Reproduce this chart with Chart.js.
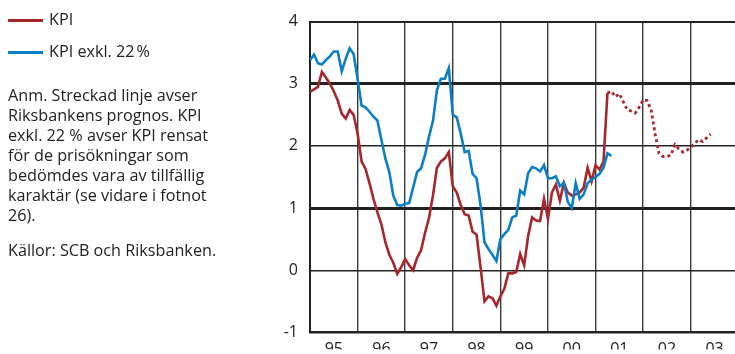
<!DOCTYPE html>
<html>
<head>
	<meta charset="UTF-8">
	<title>KPI och KPI exkl. 22 %</title>
	<script src="https://cdn.jsdelivr.net/npm/chart.js"></script>
	<style>
		body { margin: 0; width: 735px; height: 354px; overflow: hidden; background: #fff; font-family: "Open Sans", sans-serif; color: #222; }
		#wrap { position: absolute; left: 0; top: 0; width: 735px; height: 354px; }
		.side { position: absolute; left: 8px; font-size: 16.2px; line-height: 20px; white-space: nowrap; }
		.key { position: absolute; left: 8px; height: 22px; font-size: 16.2px; }
		.key span.line { position: absolute; left: 0; top: 11px; width: 35px; height: 3px; }
		.key span.txt { position: absolute; left: 41px; top: 0; white-space: nowrap; }
	</style>
</head>
<body>
	<div id="wrap">
		<canvas id="kpi-chart" width="735" height="354"></canvas>
	</div>
	<div class="key" style="top:8px"><span class="line" style="background:#a5272d"></span><span class="txt">KPI</span></div>
	<div class="key" style="top:40px"><span class="line" style="background:#0a7ec6"></span><span class="txt">KPI exkl. 22&#8239;%</span></div>
	<div class="side" style="top:85px">Anm. Streckad linje avser<br>Riksbankens prognos. KPI<br>exkl. 22 % avser KPI rensat<br>för de prisökningar som<br>bedömdes vara av tillfällig<br>karaktär (se vidare i fotnot<br>26).</div>
	<div class="side" style="top:240px">Källor: SCB och Riksbanken.</div>

	<script>
		// monthly values from jan 1995
		const startYear = 1995;
		const kpi = [2.87, 2.91, 2.95, 3.19, 3.1, 3.0, 2.88, 2.73, 2.52, 2.44, 2.58, 2.5,
			2.2, 1.75, 1.63, 1.4, 1.15, 0.93, 0.74, 0.45, 0.25, 0.12, -0.06, 0.05,
			0.18, 0.08, 0.0, 0.2, 0.32, 0.6, 0.84, 1.2, 1.65, 1.75, 1.8, 1.9,
			1.35, 1.25, 1.05, 0.9, 0.88, 0.62, 0.57, 0.05, -0.5, -0.42, -0.45, -0.57,
			-0.42, -0.3, -0.05, -0.05, -0.03, 0.26, 0.08, 0.55, 0.85, 0.8, 0.79, 1.15,
			0.83, 1.25, 1.38, 1.12, 1.4, 1.25, 1.2, 1.22, 1.25, 1.33, 1.65, 1.43,
			1.69, 1.62, 1.75, 2.85];
		// Riksbankens prognos, starts at the last KPI month
		const forecastStart = 75;
		const kpiForecast = [2.85, 2.88, 2.79, 2.84, 2.71, 2.58, 2.56, 2.53, 2.62,
			2.74, 2.73, 2.58, 2.2, 1.88, 1.83, 1.83, 1.85, 2.02, 1.95, 1.9, 1.93,
			1.98, 2.04, 2.1, 2.07, 2.13, 2.19];
		const kpiExkl = [3.38, 3.47, 3.33, 3.31, 3.38, 3.44, 3.52, 3.52, 3.2, 3.4, 3.57, 3.48,
			3.08, 2.65, 2.62, 2.55, 2.47, 2.41, 2.1, 1.8, 1.58, 1.2, 1.05, 1.04,
			1.07, 1.08, 1.33, 1.58, 1.64, 1.85, 2.15, 2.4, 2.9, 3.08, 3.08, 3.25,
			2.5, 2.46, 2.2, 1.9, 1.92, 1.55, 1.48, 1.05, 0.45, 0.34, 0.25, 0.15,
			0.5, 0.58, 0.65, 0.85, 0.88, 1.28, 1.22, 1.56, 1.66, 1.64, 1.59, 1.69,
			1.48, 1.48, 1.51, 1.35, 1.41, 1.1, 1.0, 1.4, 1.15, 1.22, 1.4, 1.46,
			1.5, 1.55, 1.65, 1.88, 1.84];
		const years = [1995, 1996, 1997, 1998, 1999, 2000, 2001, 2002, 2003];
		const yearLabels = ['95', '96', '97', '98', '99', '00', '01', '02', '03'];
		const yTicks = [-1, 0, 1, 2, 3, 4];

		const toPoints = (arr, offset) => arr.map((v, i) => ({ x: startYear + (offset + i) / 12, y: v }));

		// one tick at each year start (grid) and one mid-year (label)
		const xTicks = [];
		years.forEach(y => { xTicks.push({ value: y }); xTicks.push({ value: y + 0.5 }); });

		const ctx = document.getElementById('kpi-chart').getContext('2d');
		new Chart(ctx, {
			type: 'line',
			data: {
				datasets: [{
					label: 'KPI exkl. 22 %',
					data: toPoints(kpiExkl, 0),
					borderColor: '#0a7ec6',
					borderWidth: 2.6,
					pointRadius: 0,
					tension: 0
				}, {
					label: 'KPI',
					data: toPoints(kpi, 0),
					borderColor: '#a5272d',
					borderWidth: 2.6,
					pointRadius: 0,
					tension: 0
				}, {
					label: 'Prognos',
					data: toPoints(kpiForecast, forecastStart),
					borderColor: '#a5272d',
					borderWidth: 2.8,
					borderDash: [3, 3],
					pointRadius: 0,
					tension: 0
				}]
			},
			options: {
				responsive: false,
				animation: false,
				layout: { padding: { top: 17, right: 0, left: 0, bottom: 0 } },
				plugins: { legend: { display: false }, tooltip: { enabled: false } },
				scales: {
					x: {
						type: 'linear',
						min: 1995,
						max: 2003.93,
						afterBuildTicks: s => { s.ticks = xTicks.map(t => ({ value: t.value })); },
						afterFit: s => { s.height = 17; },
						grid: {
							color: c => (c.tick && Number.isInteger(c.tick.value) && c.tick.value > 1995) ? '#3a3a3a' : 'rgba(0,0,0,0)',
							lineWidth: 1.4,
							drawTicks: false
						},
						border: { color: '#222', width: 2 },
						ticks: {
							autoSkip: false,
							maxRotation: 0,
							padding: 7,
							color: '#222',
							font: { family: 'Open Sans', size: 16 },
							callback: v => Number.isInteger(v) ? '' : yearLabels[years.indexOf(Math.floor(v))]
						}
					},
					y: {
						min: -1,
						max: 4,
						afterBuildTicks: s => { s.ticks = yTicks.map(v => ({ value: v })); },
						afterFit: s => { s.width = 310; },
						grid: {
							color: '#222',
							lineWidth: c => (c.tick && (c.tick.value === 1 || c.tick.value === 3)) ? 3 : (c.tick && c.tick.value === 4 ? 2 : 1.4),
							drawTicks: false
						},
						border: { color: '#222', width: 2 },
						ticks: {
							padding: 12,
							color: '#222',
							font: { family: 'Open Sans', size: 16 }
						}
					}
				}
			}
		});
	</script>
</body>
</html>
